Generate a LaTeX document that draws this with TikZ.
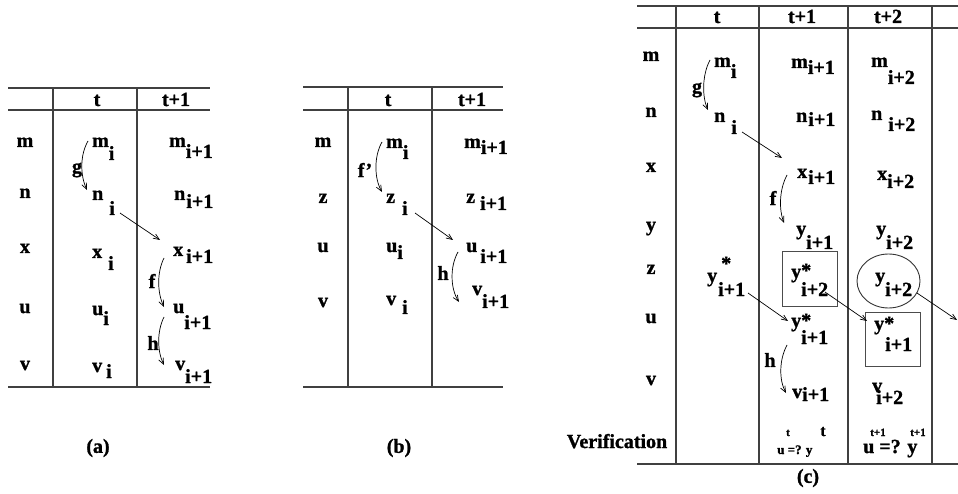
\documentclass[tikz,border=0pt]{standalone}
\usepackage{fontspec}
\setmainfont{Liberation Serif}[BoldFont={Liberation Serif Bold},BoldFeatures={FakeBold=1.2}]
\usetikzlibrary{arrows.meta,shapes.geometric}
\newcommand\mainfs{\fontsize{20}{22}\selectfont\bfseries}
\newcommand\lbsub[4]{#3\hspace{#1pt}\raisebox{-#2pt}{#4}}
\newcommand\lbstar[6]{#1\rlap{\hspace{#2pt}\raisebox{#3pt}{*}}\hspace{#4pt}\raisebox{-#5pt}{#6}}
\tikzset{
  every node/.style={inner sep=0pt, font=\mainfs},
  lab/.style={anchor=base west},
  rl/.style={anchor=base},
  el/.style={anchor=center},
  tline/.style={line width=1.3pt, black!75},
  conn/.style={line width=0.7pt, -{Straight Barb[length=6pt,width=5pt]}},
  boxst/.style={draw=black!70, line width=1pt, minimum width=55pt, minimum height=54pt},
}
\begin{document}
\begin{tikzpicture}[x=1pt,y=-1pt]
\useasboundingbox (0,0) rectangle (958,494);
% ---------------- (a)
\draw[tline] (8,88) -- (210,88);
\draw[tline] (8,110) -- (210,110);
\draw[tline] (8,387) -- (210,387);
\draw[tline] (53,88) -- (53,387);
\draw[tline] (137,88) -- (137,387);
\node[rl] (a-ht) at (97,106) {t};
\node[rl] (a-ht1) at (176,106) {t+1};
\node[rl] (a-rm) at (25,147) {m};
\node[rl] (a-rn) at (25,198) {n};
\node[rl] (a-rx) at (25,253) {x};
\node[rl] (a-ru) at (25,313) {u};
\node[rl] (a-rv) at (25,370) {v};
\node[lab] (a-mi) at (92,147) {\lbsub{0}{13}{m}{i}};
\node[lab] (a-ni) at (92,200) {\lbsub{6}{15}{n}{i}};
\node[lab] (a-xi) at (92,258) {\lbsub{6}{12}{x}{i}};
\node[lab] (a-ui) at (92,315) {\lbsub{0}{10}{u}{i}};
\node[lab] (a-vi) at (92,372) {\lbsub{4}{6}{v}{i}};
\node[lab] (a-m1) at (169,147) {\lbsub{0}{11}{m}{i+1}};
\node[lab] (a-n1) at (174,200) {\lbsub{1}{8}{n}{i+1}};
\node[lab] (a-x1) at (173,256) {\lbsub{3}{7}{x}{i+1}};
\node[lab] (a-u1) at (173,313) {\lbsub{0}{16}{u}{i+1}};
\node[lab] (a-v1) at (175,370) {\lbsub{0}{13}{v}{i+1}};
\coordinate (a-g1) at (88,141); \coordinate (a-g2) at (87,190);
\draw[conn] (a-g1) .. controls (80,155) and (80,175) .. (a-g2);
\node[el] (a-g) at (77,170) {g};
\coordinate (a-s1) at (120,213); \coordinate (a-s2) at (160,240);
\draw[conn] (a-s1) -- (a-s2);
\coordinate (a-f1) at (164,258); \coordinate (a-f2) at (164,307);
\draw[conn] (a-f1) .. controls (157,272) and (157,292) .. (a-f2);
\node[el] (a-f) at (152,281) {f};
\coordinate (a-h1) at (164,317); \coordinate (a-h2) at (164,365);
\draw[conn] (a-h1) .. controls (157,331) and (157,351) .. (a-h2);
\node[el] (a-h) at (153,343) {h};
\node[el] (a-cap) at (98,448) {(a)};
% ---------------- (b)
\draw[tline] (303,87) -- (503,87);
\draw[tline] (303,110) -- (503,110);
\draw[tline] (303,387) -- (503,387);
\draw[tline] (348,87) -- (348,387);
\draw[tline] (432,87) -- (432,387);
\node[rl] (b-ht) at (388,106) {t};
\node[rl] (b-ht1) at (472,106) {t+1};
\node[rl] (b-rm) at (323,147) {m};
\node[rl] (b-rz) at (323,203) {z};
\node[rl] (b-ru) at (323,252) {u};
\node[rl] (b-rv) at (323,307) {v};
\node[lab] (b-mi) at (386,148) {\lbsub{0}{11}{m}{i}};
\node[lab] (b-zi) at (386,203) {\lbsub{7}{12}{z}{i}};
\node[lab] (b-ui) at (386,252) {\lbsub{0}{7}{u}{i}};
\node[lab] (b-vi) at (386,305) {\lbsub{6}{9}{v}{i}};
\node[lab] (b-m1) at (464,148) {\lbsub{0}{6}{m}{i+1}};
\node[lab] (b-z1) at (466,203) {\lbsub{5}{7}{z}{i+1}};
\node[lab] (b-u1) at (466,252) {\lbsub{3}{11}{u}{i+1}};
\node[lab] (b-v1) at (472,295) {\lbsub{0}{13}{v}{i+1}};
\coordinate (b-f1) at (382,142); \coordinate (b-f2) at (382,192);
\draw[conn] (b-f1) .. controls (374,156) and (374,178) .. (b-f2);
\node[el] (b-f) at (365,170) {f'};
\coordinate (b-s1) at (415,213); \coordinate (b-s2) at (453,240);
\draw[conn] (b-s1) -- (b-s2);
\coordinate (b-h1) at (458,252); \coordinate (b-h2) at (459,302);
\draw[conn] (b-h1) .. controls (450,266) and (450,288) .. (b-h2);
\node[el] (b-h) at (443,273) {h};
\node[el] (b-cap) at (399,448) {(b)};
% ---------------- (c)
\draw[tline] (637,6) -- (958,6);
\draw[tline] (637,28) -- (958,28);
\draw[tline] (637,464) -- (958,464);
\foreach \xx in {676,759,848,932} \draw[tline] (\xx,6) -- (\xx,464);
\node[rl] (c-ht) at (717,23) {t};
\node[rl] (c-ht1) at (802,23) {t+1};
\node[rl] (c-ht2) at (888,23) {t+2};
\node[rl] (c-rm) at (651,61) {m};
\node[rl] (c-rn) at (651,117) {n};
\node[rl] (c-rx) at (651,172) {x};
\node[rl] (c-ry) at (651,231) {y};
\node[rl] (c-rz) at (651,274) {z};
\node[rl] (c-ru) at (651,323) {u};
\node[rl] (c-rv) at (651,385) {v};
\node[rl] (c-rver) at (617,448) {Verification};
% col t
\node[lab] (c-mi) at (714,67) {\lbsub{0}{11}{m}{i}};
\node[lab] (c-ni) at (714,122) {\lbsub{6}{12}{n}{i}};
\node[lab] (c-ys) at (707,282) {\lbstar{y}{4}{12}{1}{14}{i+1}};
% col t+1
\node[lab] (c-m1) at (791,68) {\lbsub{0}{6}{m}{i+1}};
\node[lab] (c-n1) at (796,122) {\lbsub{1}{4}{n}{i+1}};
\node[lab] (c-x1) at (797,178) {\lbsub{1}{6}{x}{i+1}};
\node[lab] (c-y1) at (796,235) {\lbsub{0}{14}{y}{i+1}};
\node[boxst] (c-box1) at (809.5,279) {};
\node[lab] (c-bs) at (791,278) {\lbstar{y}{0}{1}{0}{18}{i+2}};
\node[lab] (c-ys1) at (791,327) {\lbstar{y}{0}{0}{0}{17}{i+1}};
\node[lab] (c-v1) at (792,398) {\lbsub{0}{3}{v}{i+1}};
% col t+2
\node[lab] (c-m2) at (871,67) {\lbsub{0}{17}{m}{i+2}};
\node[lab] (c-n2) at (871,120) {\lbsub{6}{11}{n}{i+2}};
\node[lab] (c-x2) at (877,180) {\lbsub{0}{8}{x}{i+2}};
\node[lab] (c-y2) at (876,235) {\lbsub{0}{14}{y}{i+2}};
\node[draw=black!80, line width=0.9pt, ellipse, minimum width=63pt, minimum height=54pt] (c-circ) at (888.5,281) {};
\node[lab] (c-cy) at (875,282) {\lbsub{0}{14}{y}{i+2}};
\node[boxst] (c-box2) at (892.5,339) {};
\node[lab] (c-b2) at (874,330) {\lbstar{y}{0}{0}{1}{21}{i+1}};
\node[lab] (c-v2) at (872,392) {\lbsub{-6}{12}{v}{i+2}};
% verification
\node[lab, font=\fontsize{13}{15}\selectfont\bfseries] (c-vu1) at (777,454) {u =? y};
\node[rl, font=\fontsize{11}{12}\selectfont\bfseries] (c-vt1) at (788,436) {t};
\node[rl, font=\fontsize{16}{17}\selectfont\bfseries] (c-vt2) at (823,436) {t};
\node[lab] (c-vu2) at (863,453) {u =? y};
\node[rl, font=\fontsize{11}{12}\selectfont\bfseries] (c-vt3) at (878,436) {t+1};
\node[rl, font=\fontsize{11}{12}\selectfont\bfseries] (c-vt4) at (918,436) {t+1};
% arrows
\coordinate (c-g1) at (710,60); \coordinate (c-g2) at (708,110);
\draw[conn] (c-g1) .. controls (702,75) and (702,97) .. (c-g2);
\node[el] (c-g) at (697,90) {g};
\coordinate (c-s1) at (742,132); \coordinate (c-s2) at (782,158);
\draw[conn] (c-s1) -- (c-s2);
\coordinate (c-f1) at (787,175); \coordinate (c-f2) at (784,223);
\draw[conn] (c-f1) .. controls (779,190) and (779,210) .. (c-f2);
\node[el] (c-f) at (773,198) {f};
\coordinate (c-a1) at (748,293); \coordinate (c-a2) at (788,321);
\draw[conn] (c-a1) -- (c-a2);
\coordinate (c-b1) at (825,292); \coordinate (c-b2e) at (867,321);
\draw[conn] (c-b1) -- (c-b2e);
\coordinate (c-o1) at (917,293); \coordinate (c-o2) at (957,320);
\draw[conn] (c-o1) -- (c-o2);
\coordinate (c-h1) at (787,345); \coordinate (c-h2) at (786,393);
\draw[conn] (c-h1) .. controls (779,360) and (779,380) .. (c-h2);
\node[el] (c-h) at (770,360) {h};
\node[el] (c-cap) at (808,478) {(c)};
\end{tikzpicture}
\end{document}
